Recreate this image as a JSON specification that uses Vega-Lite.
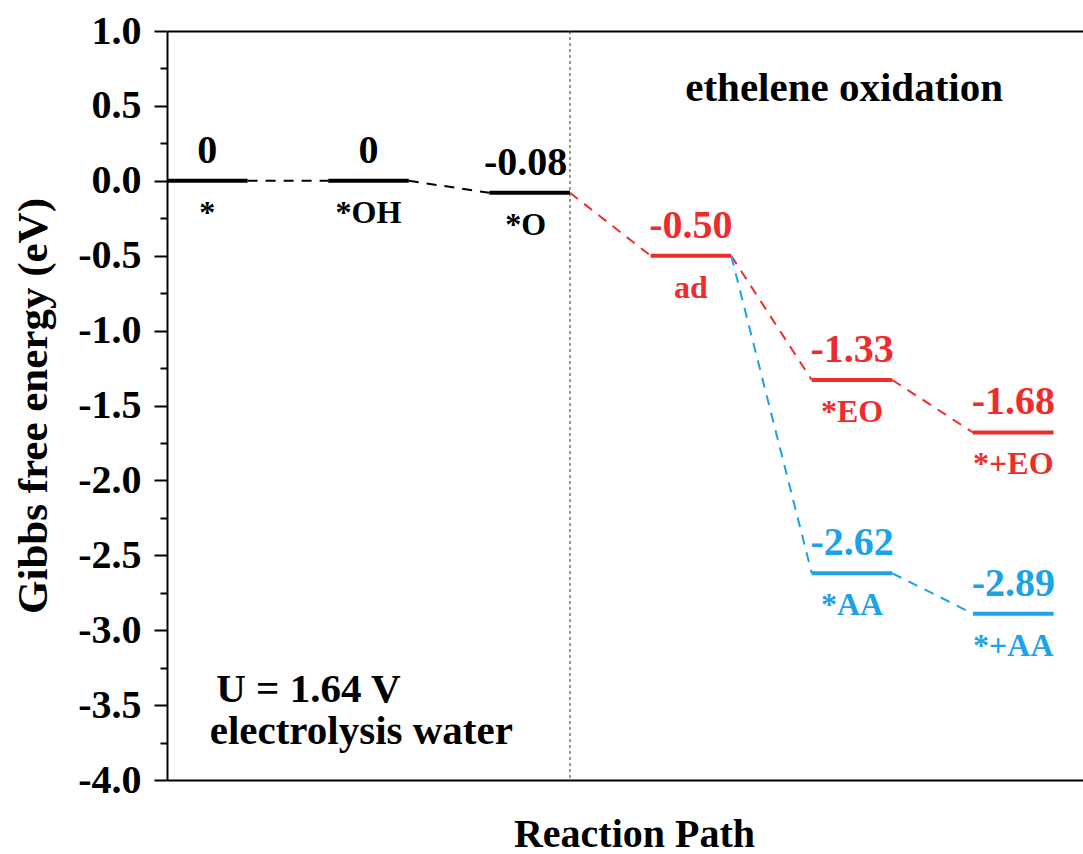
{
  "$schema": "https://vega.github.io/schema/vega-lite/v6.json",
  "width": 916,
  "height": 749,
  "autosize": "none",
  "padding": {"left": 167, "top": 31, "right": 0, "bottom": 74},
  "background": "white",
  "config": {
    "view": {"stroke": null},
    "font": "Liberation Serif",
    "axis": {"labelFont": "Liberation Serif", "titleFont": "Liberation Serif", "grid": false}
  },
  "datasets": {
    "levels": [
      {"state": "*", "energy": 0, "label": "0", "start": 0, "end": 1, "mid": 0.5, "path": "water"},
      {"state": "*OH", "energy": 0, "label": "0", "start": 2, "end": 3, "mid": 2.5, "path": "water"},
      {"state": "*O", "energy": -0.08, "label": "-0.08", "start": 4, "end": 5, "mid": 4.45, "path": "water"},
      {"state": "ad", "energy": -0.5, "label": "-0.50", "start": 6, "end": 7, "mid": 6.5, "path": "EO"},
      {"state": "*EO", "energy": -1.33, "label": "-1.33", "start": 8, "end": 9, "mid": 8.5, "path": "EO"},
      {"state": "*+EO", "energy": -1.68, "label": "-1.68", "start": 10, "end": 11, "mid": 10.5, "path": "EO"},
      {"state": "*AA", "energy": -2.62, "label": "-2.62", "start": 8, "end": 9, "mid": 8.5, "path": "AA"},
      {"state": "*+AA", "energy": -2.89, "label": "-2.89", "start": 10, "end": 11, "mid": 10.5, "path": "AA"}
    ],
    "links": [
      {"from": 1, "to": 2, "e1": 0, "e2": 0, "path": "water"},
      {"from": 3, "to": 4, "e1": 0, "e2": -0.08, "path": "water"},
      {"from": 5, "to": 6, "e1": -0.08, "e2": -0.5, "path": "EO"},
      {"from": 7, "to": 8, "e1": -0.5, "e2": -1.33, "path": "EO"},
      {"from": 9, "to": 10, "e1": -1.33, "e2": -1.68, "path": "EO"},
      {"from": 7, "to": 8, "e1": -0.5, "e2": -2.62, "path": "AA"},
      {"from": 9, "to": 10, "e1": -2.62, "e2": -2.89, "path": "AA"}
    ],
    "notes": [
      {"text": "ethelene oxidation", "x": 6.43, "y": 0.533},
      {"text": "U = 1.64 V", "x": 0.61, "y": -3.48},
      {"text": "electrolysis water", "x": 0.53, "y": -3.76}
    ],
    "divider": [{"pos": 5}]
  },
  "layer": [
    {
      "data": {"name": "divider"},
      "mark": {"type": "rule", "strokeDash": [3, 3], "strokeWidth": 1, "color": "#333333"},
      "encoding": {
        "x": {"field": "pos", "type": "quantitative", "scale": {"domain": [0, 11.365], "nice": false, "zero": false},
          "axis": {"orient": "top", "ticks": false, "labels": false, "title": null, "domainColor": "black", "domainWidth": 2}}
      }
    },
    {
      "data": {"name": "links"},
      "mark": {"type": "rule", "strokeDash": [10, 8], "strokeWidth": 2},
      "encoding": {
        "x": {"field": "from", "type": "quantitative", "scale": {"domain": [0, 11.365], "nice": false, "zero": false}, "axis": null},
        "x2": {"field": "to"},
        "y": {"field": "e1", "type": "quantitative", "scale": {"domain": [-4, 1], "nice": false, "zero": false}, "axis": null},
        "y2": {"field": "e2"},
        "color": {"field": "path", "type": "nominal", "scale": {"domain": ["water", "EO", "AA"], "range": ["#000000", "#EE2C2C", "#1BA3E6"]}, "legend": null}
      }
    },
    {
      "data": {"name": "levels"},
      "mark": {"type": "rule", "strokeWidth": 4, "strokeCap": "butt"},
      "encoding": {
        "x": {"field": "start", "type": "quantitative", "scale": {"domain": [0, 11.365], "nice": false, "zero": false},
          "axis": {"orient": "bottom", "ticks": false, "labels": false, "domainColor": "black", "domainWidth": 2,
            "title": "Reaction Path", "titleFontSize": 40, "titleFontWeight": "bold", "titleColor": "black",
            "titleX": 467, "titleY": 66, "titleBaseline": "alphabetic", "titleAlign": "center", "titleAnchor": null}},
        "x2": {"field": "end"},
        "y": {"field": "energy", "type": "quantitative", "scale": {"domain": [-4, 1], "nice": false, "zero": false},
          "axis": {"orient": "left",
            "values": [1, 0.5, 0, -0.5, -1, -1.5, -2, -2.5, -3, -3.5, -4],
            "labelExpr": "(datum.value < 0 ? '-' : '') + format(abs(datum.value), '.1f')",
            "tickSize": 13, "tickColor": "black", "tickWidth": 2, "domainColor": "black", "domainWidth": 2,
            "labelFontSize": 40, "labelFontWeight": "bold", "labelColor": "black", "labelPadding": 13,
            "labelOverlap": false, "labelFlush": false,
            "title": "Gibbs free energy (eV)", "titleFontSize": 43, "titleFontWeight": "bold", "titleColor": "black",
            "titleX": -134, "titleY": 374.5, "titleAngle": -90, "titleBaseline": "middle", "titleAlign": "center", "titleAnchor": null}},
        "color": {"field": "path", "type": "nominal", "scale": {"domain": ["water", "EO", "AA"], "range": ["#000000", "#EE2C2C", "#1BA3E6"]}, "legend": null}
      }
    },
    {
      "data": {"name": "levels"},
      "mark": {"type": "text", "fontSize": 40, "fontWeight": "bold", "font": "Liberation Serif", "baseline": "alphabetic", "align": "center", "dy": -18},
      "encoding": {
        "x": {"field": "mid", "type": "quantitative", "scale": {"domain": [0, 11.365], "nice": false, "zero": false}, "axis": null},
        "y": {"field": "energy", "type": "quantitative", "scale": {"domain": [-4, 1], "nice": false, "zero": false}, "axis": null},
        "text": {"field": "label"},
        "color": {"field": "path", "type": "nominal", "scale": {"domain": ["water", "EO", "AA"], "range": ["#000000", "#EE2C2C", "#1BA3E6"]}, "legend": null}
      }
    },
    {
      "data": {"name": "levels"},
      "mark": {"type": "text", "fontSize": 32, "fontWeight": "bold", "font": "Liberation Serif", "baseline": "alphabetic", "align": "center", "dy": 42},
      "encoding": {
        "x": {"field": "mid", "type": "quantitative", "scale": {"domain": [0, 11.365], "nice": false, "zero": false}, "axis": null},
        "y": {"field": "energy", "type": "quantitative", "scale": {"domain": [-4, 1], "nice": false, "zero": false}, "axis": null},
        "text": {"field": "state"},
        "color": {"field": "path", "type": "nominal", "scale": {"domain": ["water", "EO", "AA"], "range": ["#000000", "#EE2C2C", "#1BA3E6"]}, "legend": null}
      }
    },
    {
      "data": {"name": "notes"},
      "mark": {"type": "text", "fontSize": 41, "fontWeight": "bold", "font": "Liberation Serif", "baseline": "alphabetic", "align": "left", "color": "black"},
      "encoding": {
        "x": {"field": "x", "type": "quantitative", "scale": {"domain": [0, 11.365], "nice": false, "zero": false}, "axis": null},
        "y": {"field": "y", "type": "quantitative", "scale": {"domain": [-4, 1], "nice": false, "zero": false},
          "axis": {"orient": "left",
            "values": [0.75, 0.25, -0.25, -0.75, -1.25, -1.75, -2.25, -2.75, -3.25, -3.75],
            "labels": false, "domain": false, "title": null,
            "tickSize": 7, "tickColor": "black", "tickWidth": 2}},
        "text": {"field": "text"}
      }
    }
  ],
  "resolve": {"axis": {"x": "independent", "y": "independent"}}
}
